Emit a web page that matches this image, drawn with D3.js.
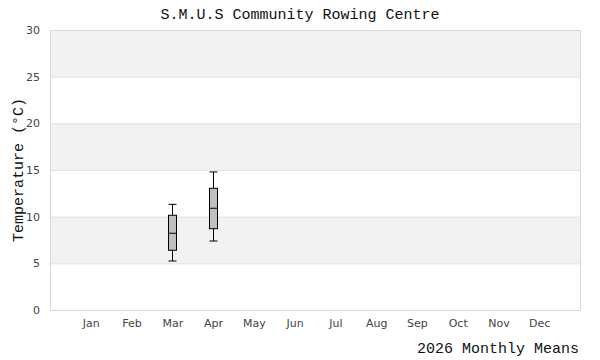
<!DOCTYPE html>
<html><head><meta charset="utf-8">
<script src="https://cdn.jsdelivr.net/npm/d3@7"></script>
<style>body{margin:0;background:#fff}</style>
</head><body>
<svg id="c" width="600" height="360"></svg>
<script>
const months = ["Jan","Feb","Mar","Apr","May","Jun","Jul","Aug","Sep","Oct","Nov","Dec"];
const boxMonths = ["Mar","Apr"];
const lowValues = [5.25, 7.39];
const q1Values = [6.4, 8.71];
const medianValues = [8.22, 10.9];
const q3Values = [10.15, 13.04];
const highValues = [11.32, 14.79];
const yTicks = [0,5,10,15,20,25,30];
const title = "S.M.U.S Community Rowing Centre";
const xTitle = "2026 Monthly Means";
const yTitle = "Temperature (°C)";

const svg = d3.select("#c");
const L=50,R=580,T=30,B=310;
const x = d3.scaleLinear().domain([0,13]).range([L,R]);
const y = d3.scaleLinear().domain([0,30]).range([B,T]);
const mono = "'Liberation Mono','DejaVu Sans Mono',monospace";

// bands
const bands = d3.range(0,30,5);
svg.selectAll("rect.band").data(bands).join("rect")
  .attr("x",L).attr("width",R-L)
  .attr("y",d=>y(d+5)).attr("height",d=>y(d)-y(d+5))
  .attr("fill",(d,i)=> i%2===1 ? "#f2f2f2" : "#fff");
// grid lines
svg.selectAll("line.grid").data(yTicks).join("line")
  .attr("x1",L).attr("x2",R).attr("y1",d=>y(d)+0.5).attr("y2",d=>y(d)+0.5)
  .attr("stroke","#e0e0e0");
// border
svg.append("rect").attr("x",L+0.5).attr("y",T+0.5).attr("width",R-L).attr("height",B-T)
  .attr("fill","none").attr("stroke","#d9d9d9");

// y axis labels
const yAxis = d3.axisLeft(y).tickValues(yTicks).tickSize(0).tickPadding(10);
const gy = svg.append("g").attr("transform",`translate(${L},0)`).call(yAxis);
gy.select(".domain").remove();
gy.selectAll("text").attr("font-family","'DejaVu Sans',sans-serif").attr("font-size",11).attr("fill","#444");

// x axis labels
const xAxis = d3.axisBottom(x).tickValues(d3.range(1,13)).tickFormat(d=>months[d-1]).tickSize(0).tickPadding(9);
const gx = svg.append("g").attr("transform",`translate(0,${B})`).call(xAxis);
gx.select(".domain").remove();
gx.selectAll("text").attr("font-family","'DejaVu Sans',sans-serif").attr("font-size",11).attr("fill","#444");

// boxes
const data = boxMonths.map((m,i)=>({m, lo:lowValues[i], q1:q1Values[i], med:medianValues[i], q3:q3Values[i], hi:highValues[i]}));
const bw = 8;
const g = svg.append("g");
data.forEach(d=>{
  const cx = Math.round(x(months.indexOf(d.m)+1)) + 0.5;
  g.append("line").attr("x1",cx).attr("x2",cx).attr("y1",y(d.hi)).attr("y2",y(d.q3)).attr("stroke","#000");
  g.append("line").attr("x1",cx).attr("x2",cx).attr("y1",y(d.q1)).attr("y2",y(d.lo)).attr("stroke","#000");
  g.append("line").attr("x1",cx-bw/2).attr("x2",cx+bw/2).attr("y1",y(d.hi)).attr("y2",y(d.hi)).attr("stroke","#000");
  g.append("line").attr("x1",cx-bw/2).attr("x2",cx+bw/2).attr("y1",y(d.lo)).attr("y2",y(d.lo)).attr("stroke","#000");
  g.append("rect").attr("x",cx-bw/2).attr("width",bw).attr("y",y(d.q3)).attr("height",y(d.q1)-y(d.q3))
    .attr("fill","#c0c0c0").attr("stroke","#000");
  g.append("line").attr("x1",cx-bw/2).attr("x2",cx+bw/2).attr("y1",y(d.med)).attr("y2",y(d.med)).attr("stroke","#000");
});

// titles
svg.append("text").attr("x",300).attr("y",19).attr("text-anchor","middle")
  .attr("font-family",mono).attr("font-size",15).attr("fill","#111").text(title);
svg.append("text").attr("x",R-1).attr("y",353).attr("text-anchor","end")
  .attr("font-family",mono).attr("font-size",15).attr("fill","#111").text(xTitle);
svg.append("text").attr("transform",`translate(23,${(T+B)/2}) rotate(-90)`).attr("text-anchor","middle")
  .attr("font-family",mono).attr("font-size",15).attr("fill","#111").text(yTitle);
</script>
</body></html>
